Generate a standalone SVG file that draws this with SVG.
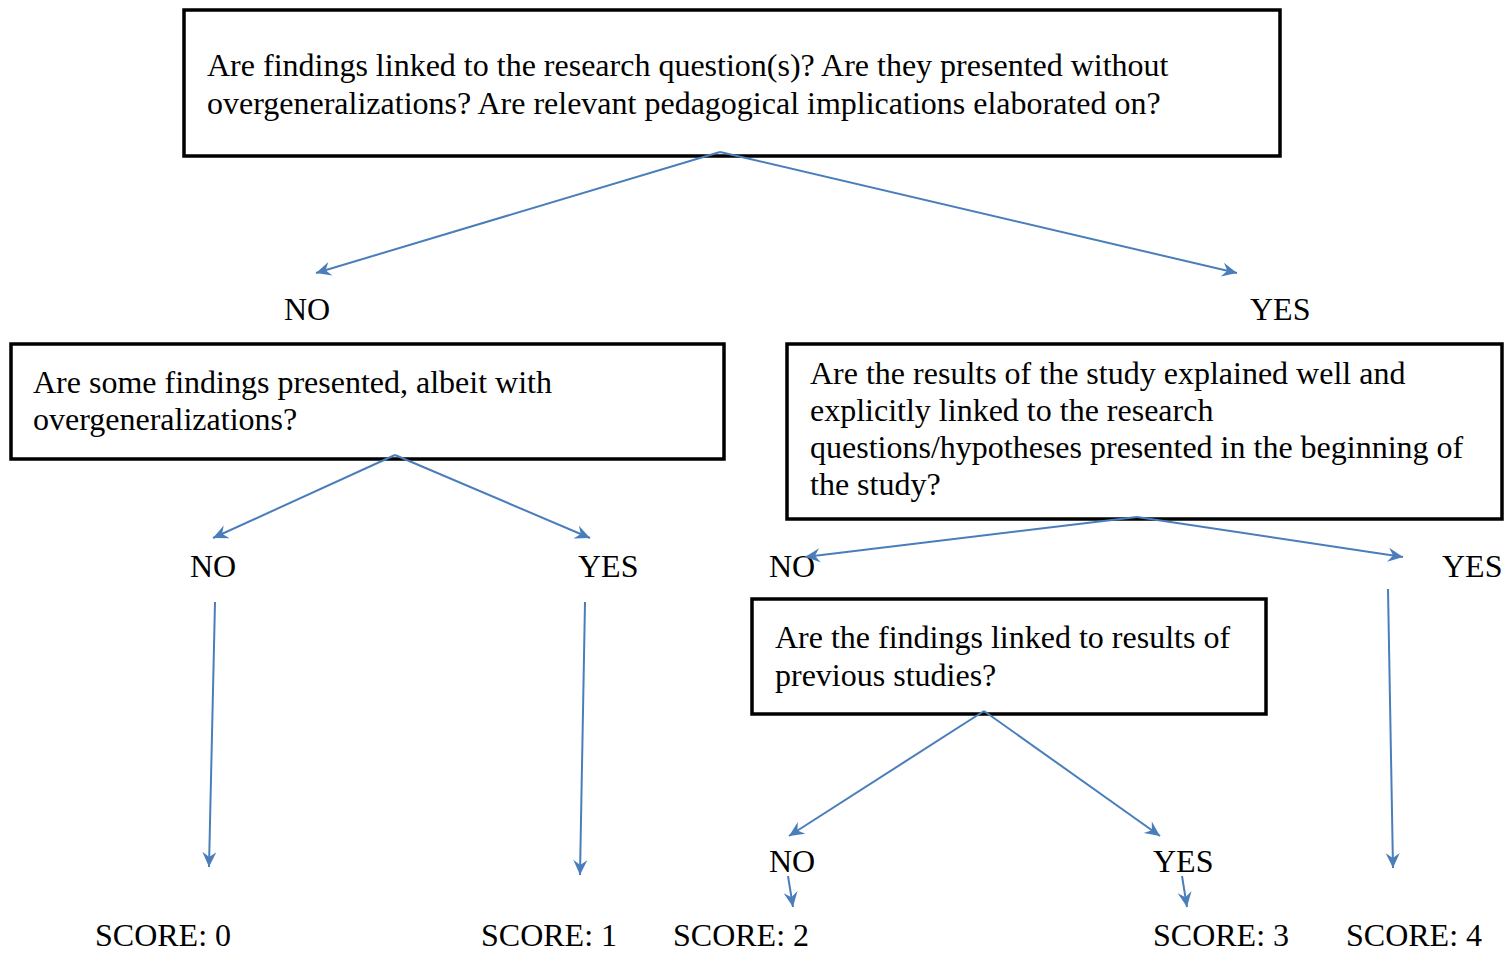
<svg xmlns="http://www.w3.org/2000/svg" width="1505" height="953" viewBox="0 0 1505 953">
  <style>
    .box { fill: #ffffff; stroke: #000000; stroke-width: 3.5; }
    .t { font-family: "Liberation Serif", "Times New Roman", serif; font-size: 32px; fill: #000000; }
    .edge { fill: none; stroke: #4a7ebb; stroke-width: 2; marker-end: url(#arrow); }
  </style>
  <defs>
    <marker id="arrow" viewBox="-16 -8 17 16" refX="0" refY="0" markerWidth="17" markerHeight="16" markerUnits="userSpaceOnUse" orient="auto">
      <path d="M0,0 L-15,-7 L-10,0 L-15,7 Z" fill="#4a7ebb"/>
    </marker>
  </defs>
  <rect width="1505" height="953" fill="#ffffff"/>

  <g id="q-findings">
    <rect class="box" x="184" y="10" width="1096" height="146"/>
    <text class="t" x="207" y="76">Are findings linked to the research question(s)? Are they presented without</text>
    <text class="t" x="207" y="114">overgeneralizations? Are relevant pedagogical implications elaborated on?</text>
  </g>

  <g id="label-no-1"><text class="t" x="284" y="320">NO</text></g>
  <g id="label-yes-1"><text class="t" x="1250" y="320">YES</text></g>

  <g id="q-some-findings">
    <rect class="box" x="11" y="344" width="713" height="115"/>
    <text class="t" x="33" y="393">Are some findings presented, albeit with</text>
    <text class="t" x="33" y="430">overgeneralizations?</text>
  </g>

  <g id="q-results">
    <rect class="box" x="787" y="344" width="715" height="175"/>
    <text class="t" x="810" y="384">Are the results of the study explained well and</text>
    <text class="t" x="810" y="421">explicitly linked to the research</text>
    <text class="t" x="810" y="458">questions/hypotheses presented in the beginning of</text>
    <text class="t" x="810" y="495">the study?</text>
  </g>

  <g id="label-no-2a"><text class="t" x="190" y="577">NO</text></g>
  <g id="label-yes-2a"><text class="t" x="578" y="577">YES</text></g>
  <g id="label-no-2b"><text class="t" x="769" y="577">NO</text></g>
  <g id="label-yes-2b"><text class="t" x="1442" y="577">YES</text></g>

  <g id="q-previous">
    <rect class="box" x="752" y="599" width="514" height="115"/>
    <text class="t" x="775" y="648">Are the findings linked to results of</text>
    <text class="t" x="775" y="686">previous studies?</text>
  </g>

  <g id="label-no-3"><text class="t" x="769" y="872">NO</text></g>
  <g id="label-yes-3"><text class="t" x="1153" y="872">YES</text></g>

  <g id="score-0"><text class="t" x="95" y="946">SCORE: 0</text></g>
  <g id="score-1"><text class="t" x="481" y="946">SCORE: 1</text></g>
  <g id="score-2"><text class="t" x="673" y="946">SCORE: 2</text></g>
  <g id="score-3"><text class="t" x="1153" y="946">SCORE: 3</text></g>
  <g id="score-4"><text class="t" x="1346" y="946">SCORE: 4</text></g>

  <g id="connectors">
    <line class="edge" x1="720" y1="152" x2="316" y2="273"/>
    <line class="edge" x1="720" y1="152" x2="1237" y2="273"/>
    <line class="edge" x1="395" y1="455" x2="213" y2="538"/>
    <line class="edge" x1="395" y1="455" x2="590" y2="538"/>
    <line class="edge" x1="1137" y1="517" x2="805" y2="557"/>
    <line class="edge" x1="1137" y1="517" x2="1403" y2="557"/>
    <line class="edge" x1="984" y1="711" x2="789" y2="836"/>
    <line class="edge" x1="984" y1="711" x2="1160" y2="836"/>
    <line class="edge" x1="215" y1="602" x2="209" y2="867"/>
    <line class="edge" x1="585" y1="602" x2="580" y2="875"/>
    <line class="edge" x1="1388" y1="589" x2="1393" y2="868"/>
    <line class="edge" x1="788" y1="876" x2="793" y2="907"/>
    <line class="edge" x1="1182" y1="876" x2="1187" y2="907"/>
  </g>
</svg>
